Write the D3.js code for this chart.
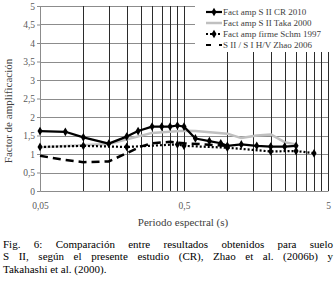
<!DOCTYPE html>
<html>
<head>
<meta charset="utf-8">
<script src="https://cdn.jsdelivr.net/npm/d3@7"></script>
<style>
body { margin: 0; background: #fff; }
svg { display: block; }
text { font-family: "Liberation Serif", "Times New Roman", serif; }
</style>
</head>
<body>
<svg id="chart" width="335" height="289"></svg>
<script>
// series
var periodCR = [0.05, 0.075, 0.1, 0.15, 0.2, 0.24, 0.3, 0.35, 0.4, 0.45, 0.5, 0.6, 0.75, 0.9, 1.0, 1.25, 1.6, 2.0, 2.5, 3.0];
var ampCR    = [1.62, 1.60, 1.45, 1.28, 1.47, 1.62, 1.74, 1.74, 1.74, 1.77, 1.74, 1.42, 1.35, 1.29, 1.22, 1.26, 1.22, 1.20, 1.20, 1.22];

var periodTaka = [0.05, 0.15, 0.3, 0.5, 0.6, 1.0, 1.25, 1.6, 2.0, 2.5, 3.0];
var ampTaka    = [1.18, 1.27, 1.57, 1.63, 1.62, 1.55, 1.43, 1.50, 1.53, 1.32, 1.26];

var periodSchm = [0.05, 0.1, 0.2, 0.45, 0.5, 1.0, 2.0, 3.0, 4.0];
var ampSchm    = [1.19, 1.22, 1.19, 1.26, 1.22, 1.17, 1.07, 1.08, 1.02];

var periodZhao = [0.05, 0.075, 0.1, 0.15, 0.2, 0.25, 0.3, 0.4, 0.5, 0.7, 1.0];
var ampZhao    = [0.95, 0.84, 0.78, 0.80, 1.02, 1.20, 1.29, 1.33, 1.29, 1.26, 1.22];

var legendLabels = ["Fact amp S II CR 2010", "Fact amp S II Taka 2000", "Fact amp firme Schm 1997", "S II / S I H/V Zhao 2006"];

var yTicks = [0, 0.5, 1, 1.5, 2, 2.5, 3, 3.5, 4, 4.5, 5];
var yTickLabels = ["0", "0,5", "1", "1,5", "2", "2,5", "3", "3,5", "4", "4,5", "5"];
var xTicks = [0.05, 0.5, 5];
var xTickLabels = ["0,05", "0,5", "5"];

var caption = [
  "Fig. 6: Comparación entre resultados obtenidos para suelo",
  "S II, según el presente estudio (CR), Zhao et al. (2006b) y",
  "Takahashi et al. (2000)."
];

var svg = d3.select("#chart"),
    margin = {top: 6, left: 40},
    width = 288,
    height = 185,
    g = svg.append("g").attr("transform", "translate(" + margin.left + "," + margin.top + ")");

var x = d3.scaleLog().domain([0.05, 5]).range([0, width]);
var y = d3.scaleLinear().domain([0, 5]).range([height, 0]);

// log minor gridlines like Excel: 0.05*k, 0.5*k
var gridX = [];
[0.05, 0.5].forEach(function(b) {
  for (var k = 2; k <= 10; k++) gridX.push(b * k);
});

g.selectAll(".hgrid").data(yTicks.slice(1)).enter().append("line")
    .attr("x1", 0).attr("x2", width)
    .attr("y1", function(d) { return Math.round(y(d)) + 0.5; })
    .attr("y2", function(d) { return Math.round(y(d)) + 0.5; })
    .attr("stroke", "#8c8c8c").attr("stroke-width", 1);

g.selectAll(".vgrid").data(gridX).enter().append("line")
    .attr("x1", function(d) { return Math.round(x(d)) + 0.5; })
    .attr("x2", function(d) { return Math.round(x(d)) + 0.5; })
    .attr("y1", 0).attr("y2", height)
    .attr("stroke", "#2b2b2b").attr("stroke-width", 1);

// y axis
g.append("g")
    .call(d3.axisLeft(y).tickValues(yTicks).tickSize(3).tickPadding(2)
      .tickFormat(function(d, i) { return yTickLabels[i]; }))
    .call(function(a) {
      a.select(".domain").attr("stroke", "#8c8c8c");
      a.selectAll(".tick line").attr("stroke", "#8c8c8c");
      a.selectAll(".tick text").attr("fill", "#595959").attr("font-size", "9.5px");
    });

// x axis
g.append("g")
    .attr("transform", "translate(0," + height + ")")
    .call(d3.axisBottom(x).tickValues(xTicks).tickSize(0).tickPadding(11)
      .tickFormat(function(d, i) { return xTickLabels[i]; }))
    .call(function(a) {
      a.select(".domain").attr("stroke", "#8c8c8c");
      a.selectAll(".tick text").attr("fill", "#595959").attr("font-size", "9.5px");
    });

svg.append("text")
    .attr("x", margin.left + width / 2 - 1).attr("y", 226)
    .attr("text-anchor", "middle").attr("font-size", "11px").attr("fill", "#404040")
    .text("Periodo espectral (s)");

svg.append("text")
    .attr("transform", "translate(8,111) rotate(-90)")
    .attr("text-anchor", "middle").attr("dy", "0.35em")
    .attr("font-size", "11px").attr("fill", "#404040")
    .text("Factor de amplificación");

function pairs(px, py) {
  return px.map(function(p, i) { return [p, py[i]]; });
}

var line = d3.line()
    .x(function(d) { return x(d[0]); })
    .y(function(d) { return y(d[1]); });

var diamond = d3.symbol().type(d3.symbolDiamond).size(22);

// Taka - light gray
g.append("path").datum(pairs(periodTaka, ampTaka))
    .attr("fill", "none").attr("stroke", "#c0c0c0").attr("stroke-width", 2.5)
    .attr("stroke-linejoin", "round").attr("d", line);

// Zhao - dashed
g.append("path").datum(pairs(periodZhao, ampZhao))
    .attr("fill", "none").attr("stroke", "#000").attr("stroke-width", 2.5)
    .attr("stroke-dasharray", "8,5").attr("d", line);

// Schm - dotted with markers
var schm = pairs(periodSchm, ampSchm);
g.append("path").datum(schm)
    .attr("fill", "none").attr("stroke", "#000").attr("stroke-width", 2.2)
    .attr("stroke-dasharray", "2,2").attr("d", line);
g.selectAll(".mschm").data(schm).enter().append("path")
    .attr("transform", function(d) { return "translate(" + x(d[0]) + "," + y(d[1]) + ")"; })
    .attr("d", diamond).attr("fill", "#000");

// CR - solid with markers
var cr = pairs(periodCR, ampCR);
g.append("path").datum(cr)
    .attr("fill", "none").attr("stroke", "#000").attr("stroke-width", 2.2)
    .attr("stroke-linejoin", "round").attr("d", line);
g.selectAll(".mcr").data(cr).enter().append("path")
    .attr("transform", function(d) { return "translate(" + x(d[0]) + "," + y(d[1]) + ")"; })
    .attr("d", diamond).attr("fill", "#000");

// legend
var lg = svg.append("g");
lg.append("rect").attr("x", 195).attr("y", 1).attr("width", 136).attr("height", 51).attr("fill", "#fff");
var ly = [12, 23, 34, 45];
legendLabels.forEach(function(lab, i) {
  var yy = ly[i];
  var s = lg.append("line").attr("x1", 206).attr("x2", 222).attr("y1", yy).attr("y2", yy)
      .attr("stroke", i == 1 ? "#c0c0c0" : "#000").attr("stroke-width", i == 1 ? 2.5 : 2.2);
  if (i == 2) s.attr("stroke-dasharray", "2,2");
  if (i == 3) s.attr("stroke-dasharray", "5,8");
  if (i == 0 || i == 2) {
    lg.append("path").attr("transform", "translate(214," + yy + ")").attr("d", diamond).attr("fill", "#000");
  }
  lg.append("text").attr("x", 223).attr("y", yy).attr("dy", "0.35em")
      .attr("font-size", "9px").attr("fill", "#404040").text(lab);
});

// caption: one text block, first two lines justified word by word
var capY = [247.5, 260.3, 273.1];
var left = 3, right = 333;
var cap = svg.append("text").attr("font-size", "11px").attr("fill", "#000");
caption.forEach(function(txt, i) {
  if (i == caption.length - 1) {
    cap.append("tspan").attr("x", left).attr("y", capY[i]).text(txt);
    return;
  }
  var words = txt.split(" ");
  var spans = words.map(function(w) {
    return cap.append("tspan").attr("x", left).attr("y", capY[i]).text(w);
  });
  var widths = spans.map(function(s) { return s.node().getComputedTextLength(); });
  var gap = (right - left - d3.sum(widths)) / (words.length - 1);
  var cx = left;
  spans.forEach(function(s, j) {
    s.attr("x", cx);
    cx += widths[j] + gap;
  });
});
</script>
</body>
</html>
